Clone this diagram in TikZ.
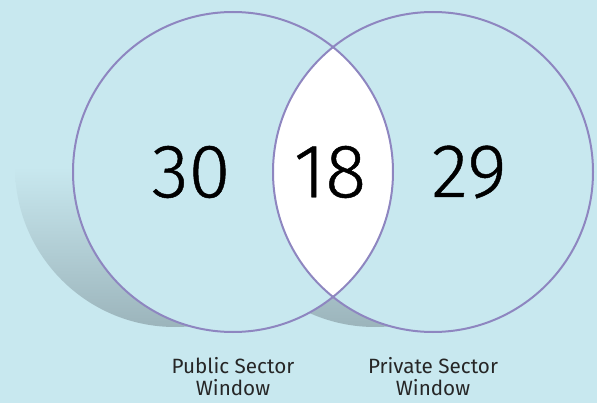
\documentclass[tikz,border=0pt]{standalone}
\usepackage{fontspec}
\setmainfont{Fira Sans}
\newfontfamily\numfont[FakeBold=0.6]{Fira Sans Light}
\definecolor{bgblue}{HTML}{C8E8EF}
\definecolor{ringpurple}{HTML}{8E86C0}
\definecolor{shadowgray}{HTML}{728790}
\definecolor{shadowmid}{HTML}{93AAB1}
\pgfdeclareverticalshading{shadowfade}{100bp}{color(0bp)=(shadowgray); color(20bp)=(shadowmid); color(50bp)=(bgblue); color(100bp)=(bgblue)}
\tikzset{
  ring/.style={draw=ringpurple, line width=1.5pt},
  count/.style={font=\numfont\fontsize{57}{57}\selectfont, text=black},
  caption/.style={font=\fontsize{15.5}{16.5}\selectfont, align=center, text=black!85}
}
\begin{document}
\begin{tikzpicture}[x=0.75pt, y=-0.75pt]
		\fill[bgblue] (0,0) rectangle (597,403);
		\useasboundingbox (0,0) rectangle (597,403);
		
		% shadow behind both circles
		\shade[shading=shadowfade, shift={(-58,-5)}]
			(233,172) circle (160) (433,172) circle (160);
		
		\fill[bgblue] (233,172) circle (160) (433,172) circle (160);
		\begin{scope}
			\clip (233,172) circle (160);
			\fill[white] (433,172) circle (160);
		\end{scope}
		\draw[ring] (233,172) circle (160);
		\draw[ring] (433,172) circle (160);
		
		\node[count] (public) at (191,172) {30};
		\node[count] (both) at (330,172) {18};
		\node[count] (private) at (469,172) {29};
		
		\node[caption] (publabel) at (233,377) {Public Sector\\Window};
		\node[caption] (privlabel) at (433,377) {Private Sector\\Window};
	\end{tikzpicture}
\end{document}
